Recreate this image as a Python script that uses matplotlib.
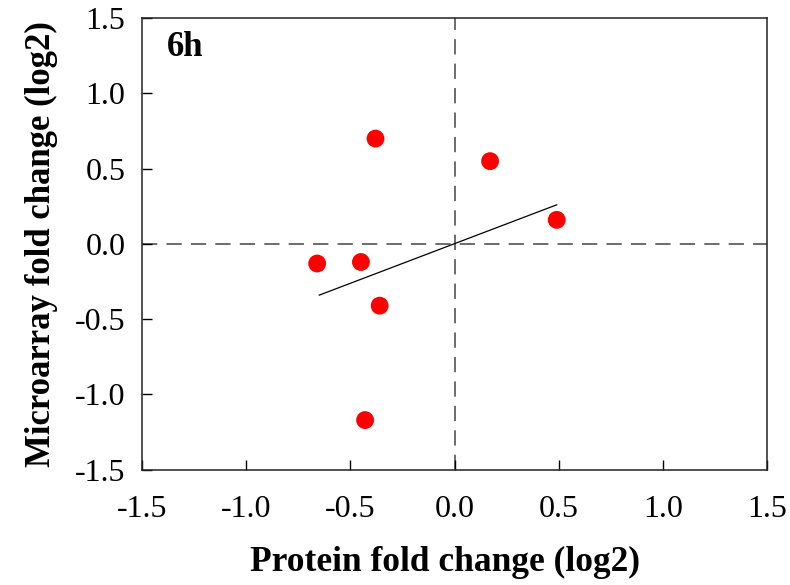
import matplotlib
matplotlib.use('Agg')
import matplotlib.pyplot as plt
import numpy as np

# log2 fold changes at 6h
protein_fc = [-0.38, 0.17, 0.49, -0.66, -0.45, -0.36, -0.43]
microarray_fc = [0.70, 0.55, 0.16, -0.13, -0.12, -0.41, -1.17]

# regression line endpoints
fit_x = [-0.65, 0.49]
fit_y = [-0.34, 0.26]

ticks = [-1.5, -1.0, -0.5, 0.0, 0.5, 1.0, 1.5]
tick_labels = ["-1.5", "-1.0", "-0.5", "0.0", "0.5", "1.0", "1.5"]

plt.rcParams['font.family'] = ['Liberation Serif', 'DejaVu Serif']
plt.rcParams['axes.unicode_minus'] = False

fig = plt.figure(figsize=(7.9, 5.85), dpi=100)
ax = fig.add_axes([0.180, 0.197, 0.791, 0.772])

ax.axhline(0, color='#444444', lw=1.1, dashes=(10, 6), zorder=1)
ax.axvline(0, color='#444444', lw=1.1, dashes=(10, 6), zorder=1)
ax.plot(fit_x, fit_y, color='black', lw=0.9, zorder=2)
ax.scatter(protein_fc, microarray_fc, s=165, color='#ff0000', edgecolors='none', zorder=3)

ax.set_xlim(-1.5, 1.5)
ax.set_ylim(-1.5, 1.5)
ax.set_xticks(ticks)
ax.set_xticklabels(tick_labels)
ax.set_yticks(ticks)
ax.set_yticklabels(tick_labels)
ax.tick_params(axis='both', direction='in', length=7, width=1, labelsize=23)
ax.tick_params(axis='x', pad=18)
ax.tick_params(axis='y', pad=12)

for sp in ax.spines.values():
    sp.set_linewidth(1.1)
    sp.set_color('#222222')

ax.text(0.04, 0.935, "6h", transform=ax.transAxes, fontsize=25,
        fontweight='bold', va='center', ha='left')

ax.set_xlabel("Protein fold change (log2)", fontsize=25.5, fontweight='bold')
ax.set_ylabel("Microarray fold change (log2)", fontsize=25, fontweight='bold', labelpad=12)
ax.xaxis.set_label_coords(0.484, -0.168)

fig.savefig("out.png", dpi=100)
